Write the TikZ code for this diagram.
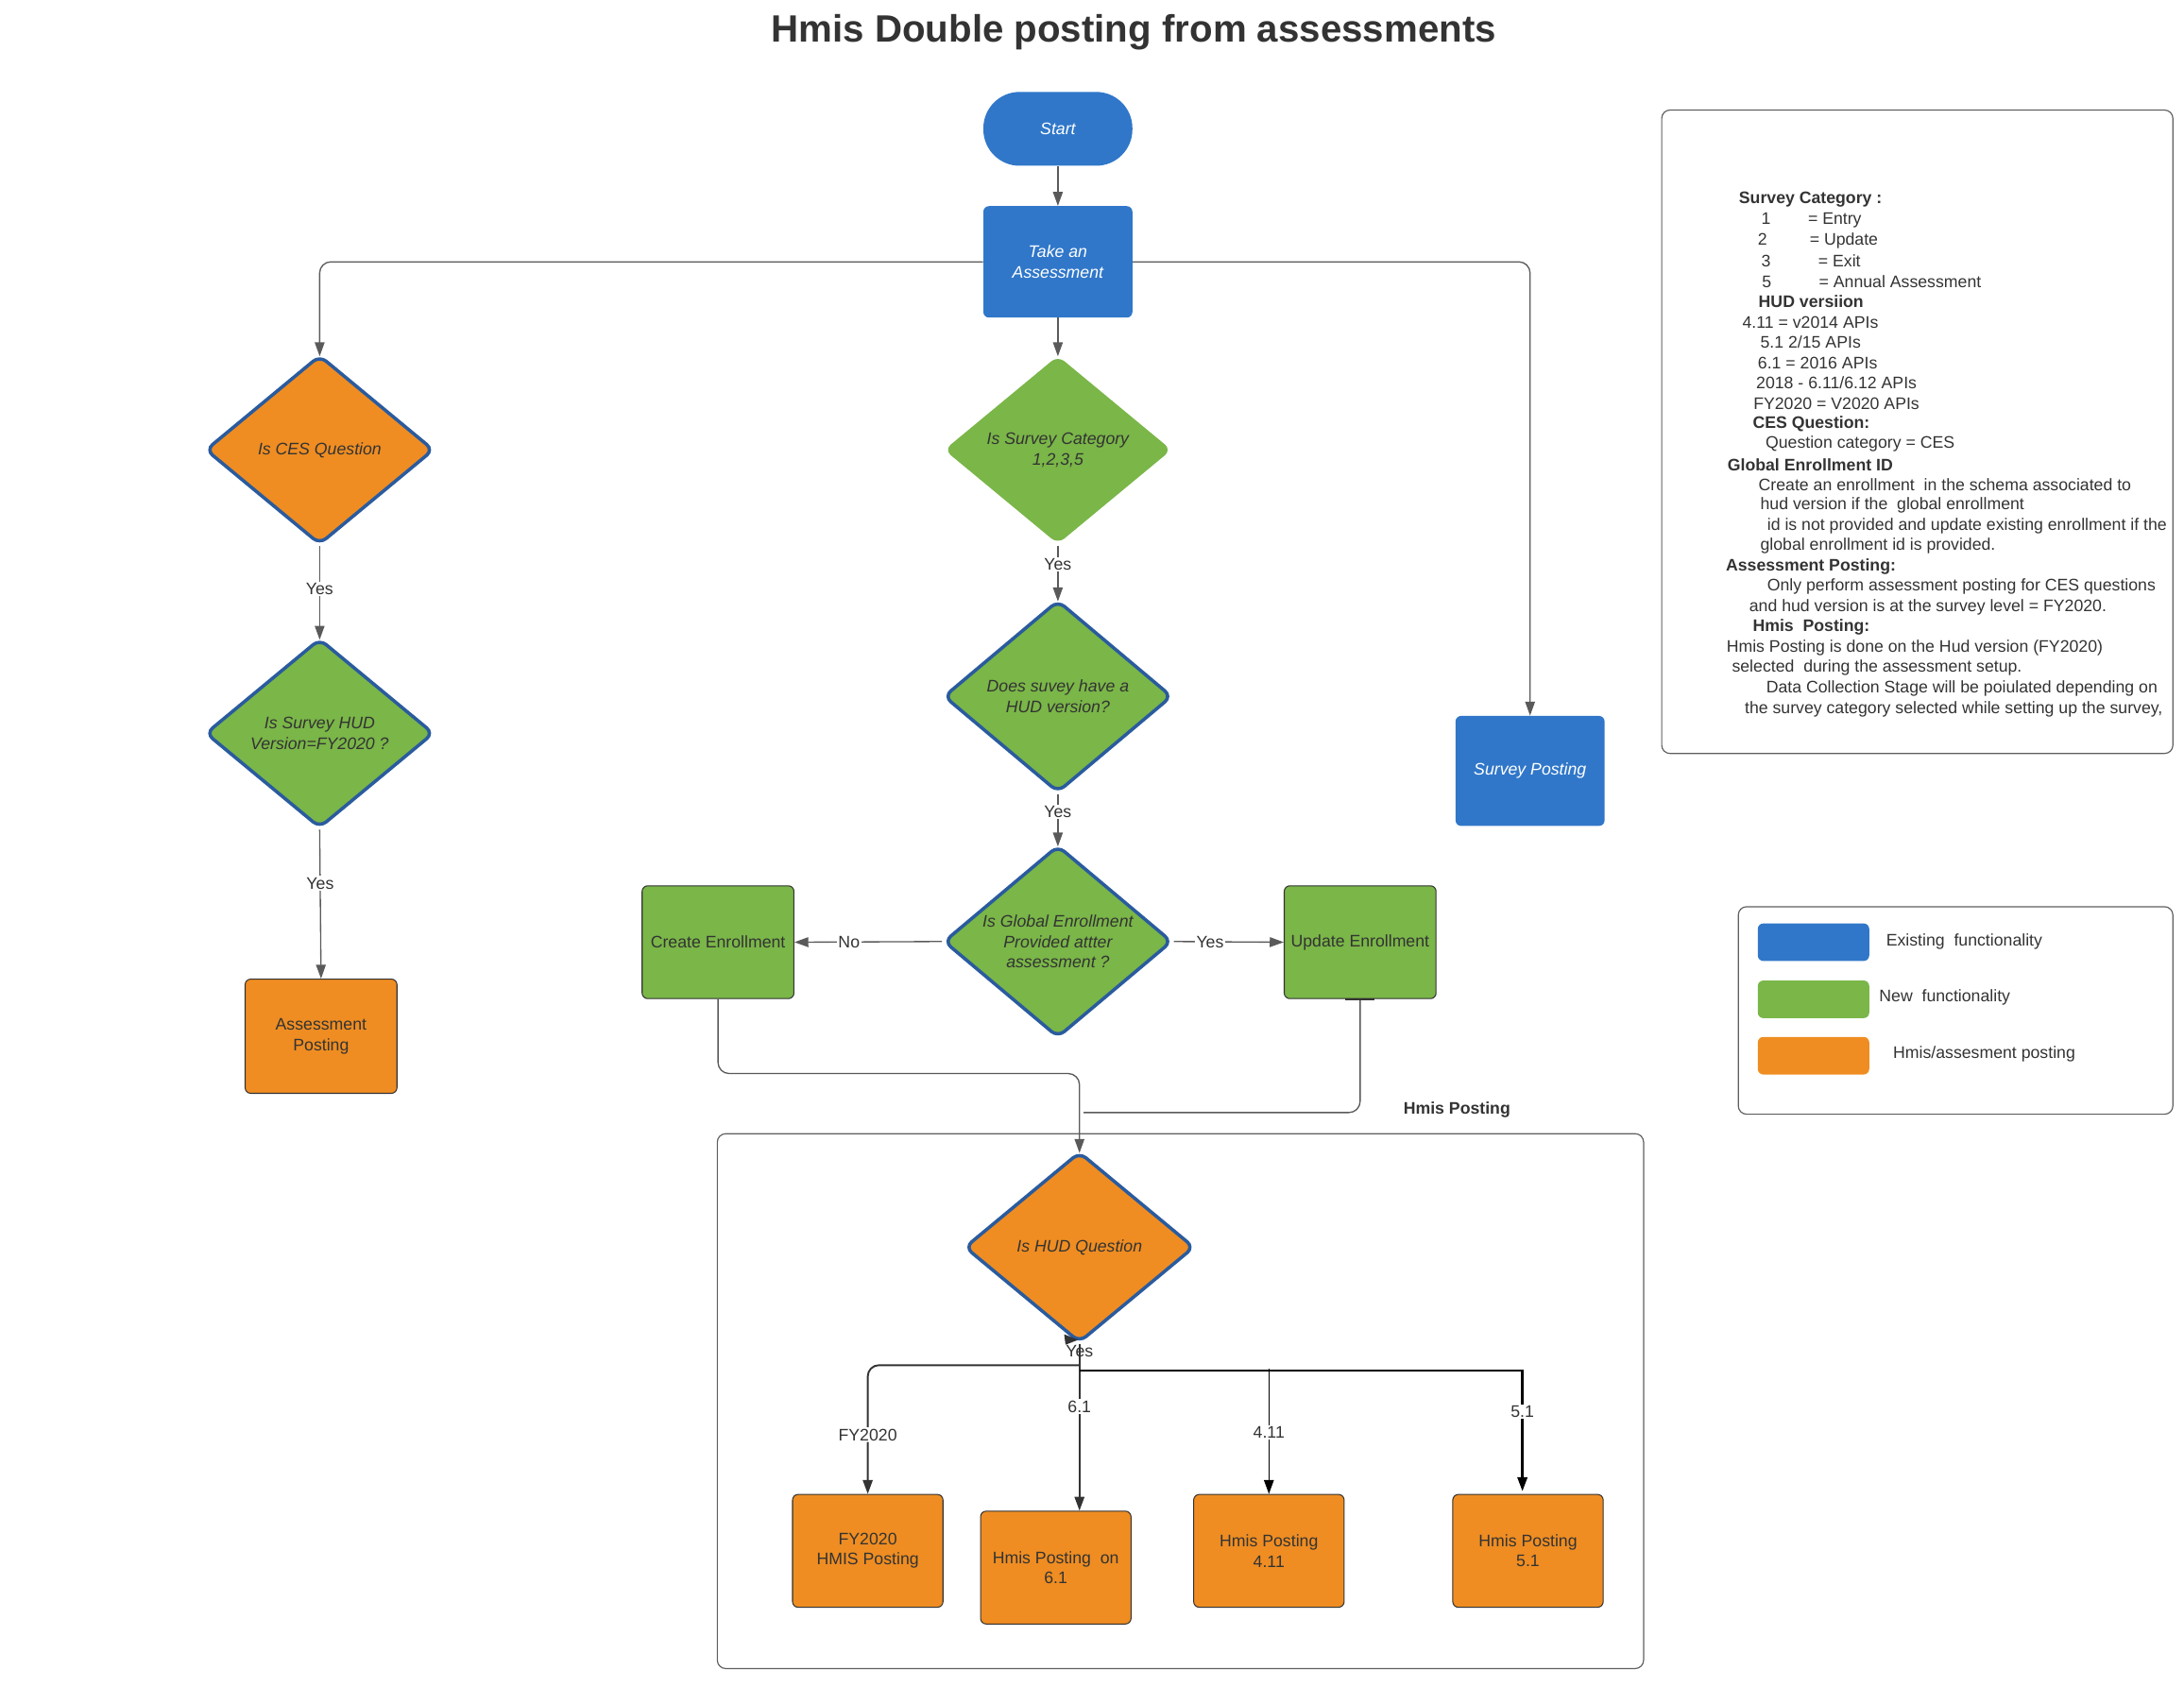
\documentclass[tikz,border=0pt]{standalone}
\usepackage{fontspec}
\setmainfont{Liberation Sans}
\usetikzlibrary{shapes.geometric,arrows.meta,calc}
\definecolor{cblue}{HTML}{3077C9}
\definecolor{cgreen}{HTML}{7AB648}
\definecolor{corange}{HTML}{EF8D22}
\definecolor{dborder}{HTML}{2A5B9E}
\definecolor{txt}{HTML}{333333}
\definecolor{lineg}{HTML}{5A5A5A}
\definecolor{boxline}{HTML}{5F5F5F}
\newcommand\myfs{\fontsize{12}{14.6}\selectfont}
\begin{document}
\begin{tikzpicture}[x=1pt,y=-1pt,
  tip/.style={-{Triangle[length=10pt,width=7pt]}},
  conn/.style={draw=lineg, line width=0.9pt, tip, text=txt},
  dconn/.style={conn, shorten >=-2pt},
  plain/.style={draw=lineg, line width=0.9pt},
  lab/.style={fill=white, inner sep=1pt, font=\myfs, text=txt},
  bluebox/.style={rectangle, rounded corners=4pt, fill=cblue, text=white, font=\myfs\itshape, align=center, inner sep=0pt},
  gbox/.style={rectangle, rounded corners=4pt, fill=cgreen, draw=txt, line width=0.7pt, text=txt, font=\myfs, align=center, inner sep=0pt, minimum width=109pt, minimum height=81pt},
  obox/.style={rectangle, rounded corners=4pt, fill=corange, draw=txt, line width=0.7pt, text=txt, font=\myfs, align=center, inner sep=0pt, minimum width=108pt, minimum height=81pt},
  dia/.style={diamond, minimum width=164pt, minimum height=136pt, inner sep=0pt, rounded corners=6pt, draw=dborder, line width=2.4pt},
  dtext/.style={font=\myfs\itshape, text=txt, align=center, inner sep=0pt},
  note/.style={anchor=west, inner sep=0pt, font=\myfs, text=txt},
  noteb/.style={anchor=west, inner sep=0pt, font=\myfs\bfseries, text=txt},
  frame/.style={draw=boxline, line width=0.8pt, rounded corners=6pt, rectangle, inner sep=0pt}
]
\useasboundingbox (0,0) rectangle (1568,1210.6);

% title
\node[font=\fontsize{27.3}{32}\selectfont\bfseries, text=txt] (title) at (814,23) {Hmis Double posting from assessments};

% main flow nodes
\node[bluebox, rounded corners=26pt, minimum width=107pt, minimum height=53pt] (start) at (759.5,92.5) {Start};
\node[bluebox, minimum width=107pt, minimum height=80pt] (take) at (759.5,188) {Take an\\Assessment};

\node[dia, fill=corange, label={[dtext]center:Is CES Question}] (ces) at (229.5,323) {};
\node[dia, fill=cgreen, label={[dtext]center:{Is Survey HUD\\Version=FY2020 ?}}] (hudfy) at (229.5,526.5) {};
\node[obox, minimum width=109pt, minimum height=82pt] (assess) at (230.5,744) {Assessment\\Posting};

\node[dia, fill=cgreen, draw=none, label={[dtext]center:{Is Survey Category\\1,2,3,5}}] (cat) at (759.5,323) {};
\node[dia, fill=cgreen, minimum height=138pt, label={[dtext]center:{Does suvey have a\\HUD version?}}] (survver) at (759.5,500) {};
\node[dia, fill=cgreen, minimum height=138pt, label={[dtext]center:{Is Global Enrollment\\Provided attter\\assessment ?}}] (glob) at (759.5,676) {};

\node[gbox] (create) at (515.5,676.5) {Create Enrollment};
\node[gbox] (update) at (976.5,676.5) {Update Enrollment};

\node[bluebox, minimum width=107pt, minimum height=79pt] (survpost) at (1098.5,553.5) {Survey Posting};

% hmis posting container
\node[font=\myfs\bfseries, text=txt] (hplabel) at (1046,797) {Hmis Posting};
\node[frame, minimum width=665pt, minimum height=384pt] (cont) at (847.5,1006) {};

\node[dia, fill=corange, minimum width=165pt, minimum height=137pt, label={[dtext]center:Is HUD Question}] (hudq) at (775,895.5) {};

\node[obox] (fy) at (623,1113.5) {FY2020\\HMIS Posting};
\node[obox] (p61) at (758,1125.5) {Hmis Posting\ \ on\\6.1};
\node[obox] (p411) at (911,1113.5) {Hmis Posting\\4.11};
\node[obox] (p51) at (1097,1113.5) {Hmis Posting\\5.1};

% connectors
\draw[conn] (start.south) -- (take.north);
\draw[dconn, rounded corners=8pt] (take.west) -| (ces.north);
\draw[conn, rounded corners=8pt] (take.east) -| (survpost.north);
\draw[dconn] (take.south) -- (cat.north);

\draw[dconn] (ces.south) -- node[lab, pos=0.47]{Yes} (hudfy.north);
\draw[conn] (hudfy.south) -- node[lab, pos=0.36]{Yes} (assess.north);

\draw[dconn] (cat.south) -- node[lab, pos=0.34]{Yes} (survver.north);
\draw[dconn] (survver.south) -- node[lab, pos=0.36]{Yes} (glob.north);
\draw[conn] (glob.west) -- node[lab, pos=0.63]{No} (create.east);
\draw[conn] (glob.east) -- node[lab, pos=0.33]{Yes} (update.west);

\draw[dconn, rounded corners=8pt] (create.south) |- ($(hudq.north)+(0,-55)$) -- (hudq.north);
\draw[plain, rounded corners=8pt] (update.south) |- ($(hudq.north)+(3,-27)$);
\draw[draw=txt, line width=1.4pt] ($(update.south)+(-11,0)$) -- ++(21,0);

% HUD question branches
\node[font=\myfs, text=txt] (yeslbl) at (775,970) {Yes};
\fill[txt] (764,958) -- (774,962) -- (765,965.5) -- cycle;
\draw[conn, draw=txt, line width=1.3pt] (hudq.south) -- node[lab, pos=0.374]{6.1} (hudq.south |- p61.north);
\draw[conn, draw=txt, line width=1.3pt, rounded corners=8pt] ($(hudq.south)+(0,15)$) -| node[lab, pos=0.77]{FY2020} (fy.north);
\draw[conn, draw=black, line width=1.6pt] ($(hudq.south)+(0,19)$) -| node[lab, pos=0.67]{5.1} ($(p51.north)+(-4,-2)$);
\draw[conn, draw=black, line width=1pt] ($(p411.north)+(0,-90)$) -- node[lab, pos=0.51]{4.11} (p411.north);

% notes box
\node[frame, minimum width=367pt, minimum height=462pt] (notes) at (1376.5,310) {};
\node[noteb] (n1) at (1248.3,143.5) {Survey Category :};
\node[note] (n2) at (1264.4,158.1) {1\hspace{26.8pt}= Entry};
\node[note] (n3) at (1261.9,172.7) {2\hspace{30.5pt}= Update};
\node[note] (n4) at (1264.4,187.4) {3\hspace{34.2pt}= Exit};
\node[note] (n5) at (1264.9,202.0) {5\hspace{34.2pt}= Annual Assessment};
\node[noteb] (n6) at (1262.4,216.6) {HUD versiion};
\node[note] (n7) at (1250.8,231.2) {4.11 = v2014 APIs};
\node[note] (n8) at (1263.7,245.8) {5.1 2/15 APIs};
\node[note] (n9) at (1261.9,260.4) {6.1 = 2016 APIs};
\node[note] (n10) at (1260.7,275.1) {2018 - 6.11/6.12 APIs};
\node[note] (n11) at (1258.7,289.7) {FY2020 = V2020 APIs};
\node[noteb] (n12) at (1258.2,304.3) {CES Question:};
\node[note] (n13) at (1267.4,318.9) {Question category = CES};
\node[noteb] (n14) at (1240.1,333.6) {Global Enrollment ID};
\node[note] (n15) at (1262.4,348.2) {Create an enrollment\ \ in the schema associated to};
\node[note] (n16) at (1263.7,362.8) {hud version if the\ \ global enrollment};
\node[note] (n17) at (1268.6,377.4) {id is not provided and update existing enrollment if the};
\node[note] (n18) at (1263.7,392.0) {global enrollment id is provided.};
\node[noteb] (n19) at (1238.9,406.7) {Assessment Posting:};
\node[note] (n20) at (1268.6,421.3) {Only perform assessment posting for CES questions};
\node[note] (n21) at (1255.7,435.9) {and hud version is at the survey level = FY2020.};
\node[noteb] (n22) at (1258.2,450.5) {Hmis\ \ Posting:};
\node[note] (n23) at (1239.4,465.1) {Hmis Posting is done on the Hud version (FY2020)};
\node[note] (n24) at (1243.3,479.7) {selected\ \ during the assessment setup.};
\node[note] (n25) at (1267.9,494.4) {Data Collection Stage will be poiulated depending on};
\node[note] (n26) at (1252.5,509.0) {the survey category selected while setting up the survey,};

% legend
\node[frame, minimum width=312pt, minimum height=149pt] (legend) at (1404,725.5) {};
\node[rectangle, rounded corners=4pt, fill=cblue, minimum width=80pt, minimum height=27pt, inner sep=0pt] (lg1) at (1302,676.5) {};
\node[rectangle, rounded corners=4pt, fill=cgreen, minimum width=80pt, minimum height=27pt, inner sep=0pt] (lg2) at (1302,717.5) {};
\node[rectangle, rounded corners=4pt, fill=corange, minimum width=80pt, minimum height=27pt, inner sep=0pt] (lg3) at (1302,758) {};
\node[note] (lt1) at (1354,676) {Existing\ \ functionality};
\node[note] (lt2) at (1349,716) {New\ \ functionality};
\node[note] (lt3) at (1359,757) {Hmis/assesment posting};
\end{tikzpicture}
\end{document}
